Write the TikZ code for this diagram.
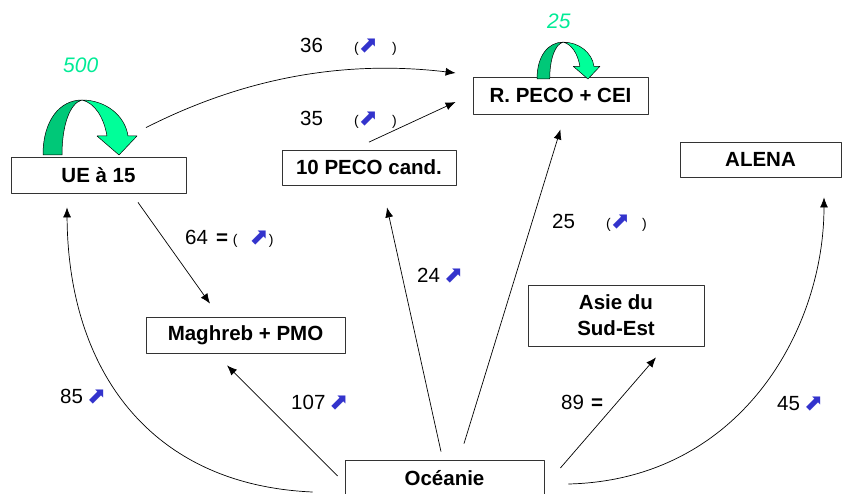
\documentclass[tikz,border=0pt]{standalone}
\usepackage{fontspec}
\setmainfont{Liberation Sans}
\newfontfamily\arrowfont{DejaVu Sans}
\usetikzlibrary{arrows.meta,calc}
\definecolor{upblue}{RGB}{51,51,204}
\definecolor{loopdark}{RGB}{0,200,120}
\definecolor{looplight}{RGB}{0,255,153}
\definecolor{looptext}{RGB}{0,235,150}
\newcommand\up{{\color{upblue}\arrowfont\fontsize{23}{23}\selectfont ⬈}}
\newcommand\paren[1]{{\fontsize{14}{14}\selectfont #1}}
\tikzset{
  box/.style={draw=black!80,line width=0.8pt,rectangle,inner sep=0pt,align=center,
    font=\bfseries\fontsize{20.5}{26}\selectfont},
  lbl/.style={inner sep=0pt,anchor=base west,font=\fontsize{20.5}{24}\selectfont},
  looplbl/.style={inner sep=0pt,anchor=base west,text=looptext,font=\itshape\fontsize{21}{24}\selectfont},
  looparrow/.pic={
    \filldraw[fill=loopdark,draw=black,line width=0.5pt] (0,0) .. controls (0,-35) and (17,-55) .. (39,-55)
      .. controls (27,-52) and (19,-30) .. (19,0) -- cycle;
    \filldraw[fill=looplight,draw=black,line width=0.5pt] (39,-55) .. controls (62,-55) and (82,-40) .. (85,-19)
      -- (94,-19) -- (76,0) -- (54,-19) -- (64,-19) .. controls (61,-37) and (52,-52) .. (39,-55) -- cycle;
  }
}
\begin{document}
\begin{tikzpicture}[x=1pt,y=-1pt,>={Latex[length=10pt,width=8pt]},line join=bevel]
\clip (0,0) rectangle (843,494);
%%
\node (node_ue) at (98.5,175) [box,minimum width=175pt,minimum height=36pt] {UE à 15};
  \node (node_peco) at (369,167.5) [box,minimum width=174pt,minimum height=35pt] {10 PECO cand.};
  \node (node_rpeco) at (560.5,95.5) [box,minimum width=175pt,minimum height=37pt] {R. PECO + CEI};
  \node (node_alena) at (760.5,159.5) [box,minimum width=161pt,minimum height=35pt] {ALENA};
  \node (node_maghreb) at (245.5,335) [box,minimum width=199pt,minimum height=36pt] {Maghreb + PMO};
  \node (node_asie) at (616,315.5) [box,minimum width=176pt,minimum height=61pt] {Asie du\\Sud-Est};
  \node (node_oceanie) at (444.5,478) [box,minimum width=199pt,minimum height=36pt] {Océanie};
%
  \pic at (43,155) {looparrow};
  \pic[scale=0.67] at (537,79) {looparrow};
  \node (lbl_ue_loop) at (63,72.7) [looplbl] {500};
  \node (lbl_rpeco_loop) at (547,28.5) [looplbl] {25};
%
  \coordinate (ue_loop_end) at ($(node_ue.north)+(47.5,-29)$);
  \draw [black,line width=0.7pt,->] (ue_loop_end) ..controls (230,85) and (330,58) .. ($(node_rpeco.west)+(-17,-22.5)$);
  \draw [black,line width=0.7pt,->] ($(node_peco.north)+(0,-7.5)$) -- ($(node_rpeco.west)+(-17,6.5)$);
  \draw [black,line width=0.7pt,->] ($(node_ue.south)+(39.5,9)$) -- ($(node_maghreb.north)+(-35.5,-13)$);
  \draw [black,line width=0.7pt,->] ($(node_oceanie.north)+(-3.5,-8)$) -- ($(node_peco.south)+(18,22)$);
  \draw [black,line width=0.7pt,->] ($(node_oceanie.north)+(19.5,-16)$) -- ($(node_rpeco.south)+(0,15)$);
  \draw [black,line width=0.7pt,->] ($(node_oceanie.west)+(-7,-2)$) -- ($(node_maghreb.south)+(-18.5,12)$);
  \draw [black,line width=0.7pt,->] ($(node_oceanie.west)+(-32,14)$) ..controls (150,485) and (68,370) .. ($(node_ue.south)+(-31.5,14)$);
  \draw [black,line width=0.7pt,->] ($(node_oceanie.east)+(16,-10)$) -- ($(node_asie.south)+(40,11)$);
  \draw [black,line width=0.7pt,->] ($(node_oceanie.east)+(24,6)$) ..controls (740,480) and (824,330) .. ($(node_alena.south)+(63.5,20)$);
%
  \node (lbl_36) at (300,52.5) [lbl] {\makebox[54pt][l]{36}\paren(\up\hspace{14pt}\paren)};
  \node (lbl_35) at (300,125.5) [lbl] {\makebox[54pt][l]{35}\paren(\up\hspace{14pt}\paren)};
  \node (lbl_64) at (185,244.5) [lbl] {64\hspace{8pt}{\bfseries=}\hspace{5pt}\paren(\hspace{12pt}\up\paren)};
  \node (lbl_24) at (417,282.5) [lbl] {24\hspace{4pt}\up};
  \node (lbl_25) at (552,228.5) [lbl] {\makebox[54pt][l]{25}\paren(\up\hspace{12pt}\paren)};
  \node (lbl_85) at (60,403.5) [lbl] {85\hspace{4pt}\up};
  \node (lbl_107) at (291,409.5) [lbl] {107\hspace{4pt}\up};
  \node (lbl_89) at (561,409.5) [lbl] {89\hspace{7pt}{\bfseries=}};
  \node (lbl_45) at (777,410.5) [lbl] {45\hspace{4pt}\up};
%
\end{tikzpicture}
\end{document}
